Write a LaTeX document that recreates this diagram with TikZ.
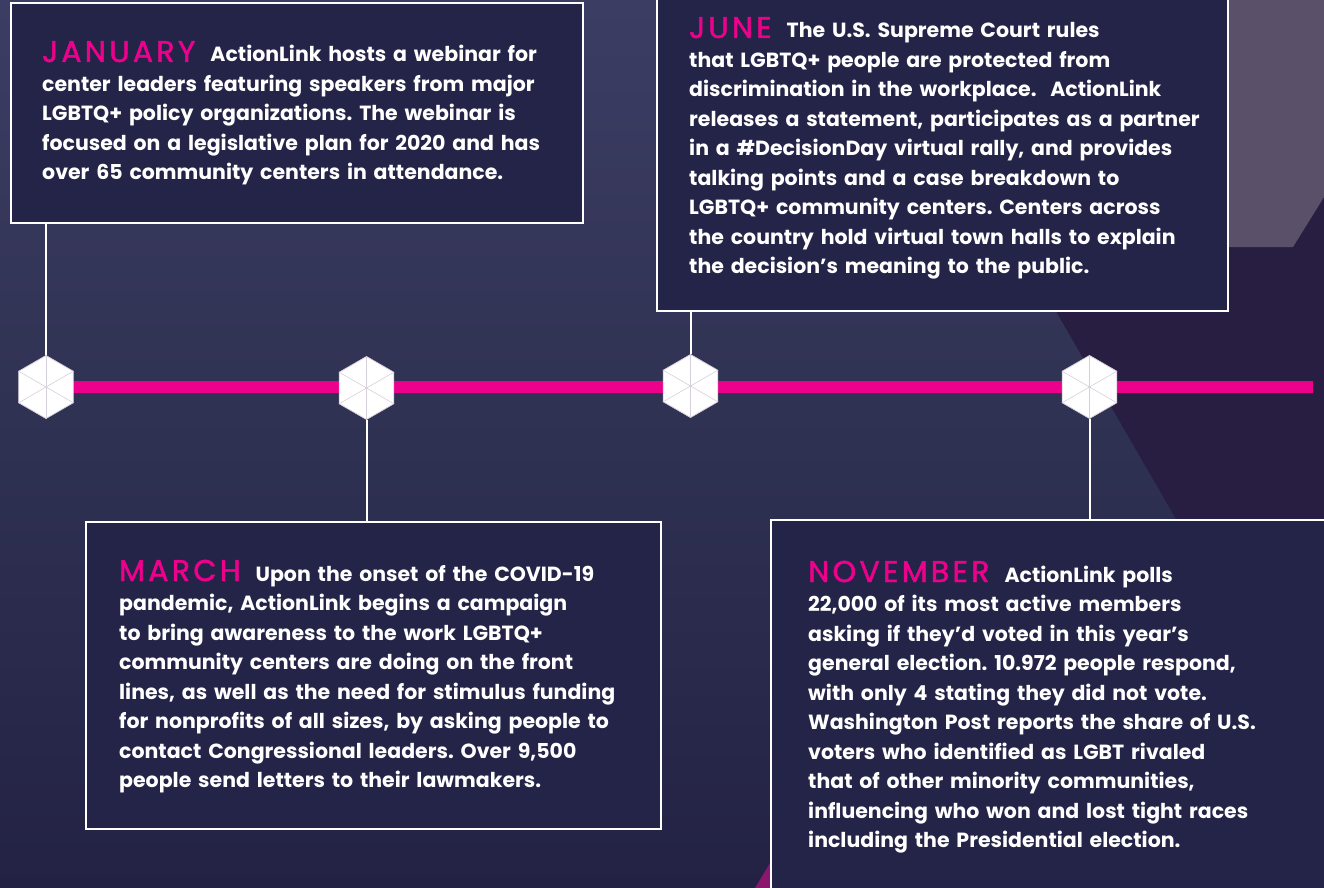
\documentclass[tikz,border=0pt]{standalone}
\usepackage{fontspec}
\setmainfont{Poppins}
\newfontfamily\monthfont[LetterSpace=11,FakeBold=1.6]{Poppins}
\usetikzlibrary{shapes.geometric}
\definecolor{bgtop}{HTML}{3C3D63}
\definecolor{bgmid}{HTML}{2F3152}
\definecolor{bgbot}{HTML}{232245}
\definecolor{darkpurple}{HTML}{281E41}
\definecolor{topgray}{HTML}{5A506A}
\definecolor{deepmag}{HTML}{8A166E}
\definecolor{boxfill}{HTML}{232447}
\definecolor{mag}{HTML}{EC008C}
\definecolor{hexline}{HTML}{D6CFDC}
\newcommand{\mon}[1]{{\monthfont\mdseries\fontsize{30}{29.5}\selectfont\color{mag}#1}\hspace{15pt}}
\frenchspacing
\tikzset{
  evbox/.style={draw=white, line width=2.5pt, fill=boxfill, inner sep=0pt, outer sep=0pt},
  evtext/.style={anchor=base west, inner sep=0pt, text width=600pt, align=left, text=white,
    font=\fontsize{20.5}{29.5}\selectfont\bfseries},
  hexnode/.style={regular polygon, regular polygon sides=6, shape border rotate=30,
    minimum size=63pt, inner sep=0pt, fill=white, draw=hexline, line width=0.8pt},
  spoke/.style={draw=hexline, line width=0.6pt},
  conn/.style={draw=white, line width=2pt},
  timeline/.style={draw=mag, line width=12pt}
}
\begin{document}
\begin{tikzpicture}[x=1pt,y=-1pt]
\useasboundingbox (0,0) rectangle (1324,888);
\clip (0,0) rectangle (1324,888);
% background
\shade[top color=bgtop, bottom color=bgbot, middle color=bgmid] (0,0) rectangle (1324,888);
\fill[darkpurple] (876,0) -- (1324,0) -- (1324,775) -- cycle;
\fill[topgray] (1100,0) -- (1324,0) -- (1324,197) -- (1293,247) -- (1100,247) -- cycle;
\fill[deepmag] (755,888) -- (815,788) -- (815,888) -- cycle;

% timeline
\coordinate (tlstart) at (46,387);
\coordinate (tlend) at (1313,387);
\draw[timeline] (tlstart) -- (tlend);

% hexagons
\node[hexnode] (h1) at (46,387) {};
\node[hexnode] (h2) at (366.5,388) {};
\node[hexnode] (h3) at (690.5,386) {};
\node[hexnode] (h4) at (1089.5,387) {};
\foreach \h in {h1,h2,h3,h4}{
  \foreach \c in {1,...,6}{ \draw[spoke] (\h.center) -- (\h.corner \c); }
}

% boxes
\node[evbox, anchor=north west, minimum width=572pt, minimum height=220pt] (jan) at (11,3) {};
\node[evbox, anchor=south west, minimum width=571pt, minimum height=340pt] (jun) at (657,311) {};
\node[evbox, anchor=north west, minimum width=575pt, minimum height=307pt] (mar) at (86,522) {};
\node[evbox, anchor=north west, minimum width=600pt, minimum height=420pt] (nov) at (771,520) {};

% connectors
\draw[conn] (h1.north) -- (h1.north |- jan.south);
\draw[conn] (h2.south) -- (h2.south |- mar.north);
\draw[conn] (h3.north) -- (h3.north |- jun.south);
\draw[conn] (h4.south) -- (h4.south |- nov.north);

% texts
\node[evtext] (jantext) at (42,62) {\mon{JANUARY}ActionLink hosts a webinar for\\
center leaders featuring speakers from major\\
LGBTQ+ policy organizations. The webinar is\\
focused on a legislative plan for 2020 and has\\
over 65 community centers in attendance.};

\node[evtext] (juntext) at (689,38) {\mon{JUNE}The U.S. Supreme Court rules\\
that LGBTQ+ people are protected from\\
discrimination in the workplace.\ \ ActionLink\\
releases a statement, participates as a partner\\
in a \#DecisionDay virtual rally, and provides\\
talking points and a case breakdown to\\
LGBTQ+ community centers. Centers across\\
the country hold virtual town halls to explain\\
the decision’s meaning to the public.};

\node[evtext] (martext) at (119,581) {\mon{MARCH}Upon the onset of the COVID-19\\
pandemic, ActionLink begins a campaign\\
to bring awareness to the work LGBTQ+\\
community centers are doing on the front\\
lines, as well as the need for stimulus funding\\
for nonprofits of all sizes, by asking people to\\
contact Congressional leaders. Over 9,500\\
people send letters to their lawmakers.};

\node[evtext] (novtext) at (808,582) {\mon{NOVEMBER}ActionLink polls\\
22,000 of its most active members\\
asking if they’d voted in this year’s\\
general election. 10.972 people respond,\\
with only 4 stating they did not vote.\\
Washington Post reports the share of U.S.\\
voters who identified as LGBT rivaled\\
that of other minority communities,\\
influencing who won and lost tight races\\
including the Presidential election.};
\end{tikzpicture}
\end{document}
